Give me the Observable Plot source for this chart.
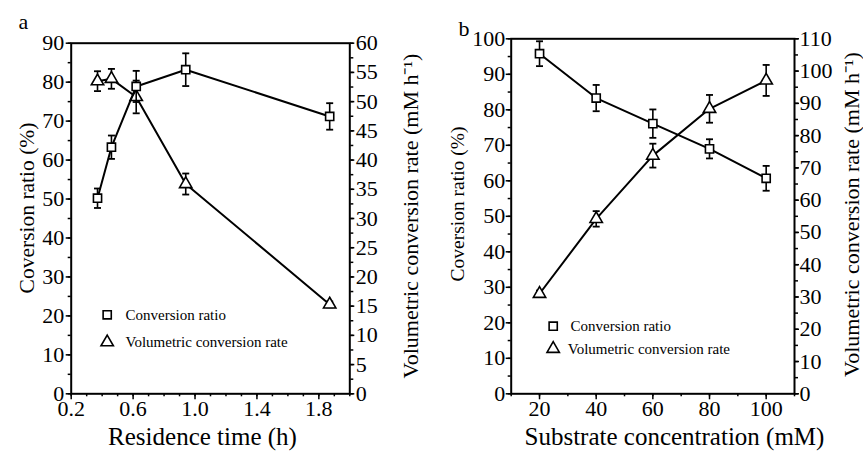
<!DOCTYPE html>
<html>
<head>
<meta charset="utf-8">
<script src="https://cdn.jsdelivr.net/npm/d3@7"></script>
<script src="https://cdn.jsdelivr.net/npm/@observablehq/plot@0.6"></script>
<style>
  html, body { margin: 0; padding: 0; background: #fff; }
  #wrap { display: flex; width: 863px; height: 451px; overflow: hidden; }
  #wrap svg { display: block; flex: none; }
  #wrap svg, #wrap svg text { font-family: "Liberation Serif","Times New Roman",Times,serif !important; }
</style>
</head>
<body>
<div id="wrap"></div>
<script>
// ---------- Panel a data ----------
const residenceTime = [0.37, 0.46, 0.62, 0.94, 1.87];
const ratioA = [50.2, 63.3, 78.9, 83.2, 71.2];
const ratioErrA = [2.5, 3.0, 4.0, 4.2, 3.4];
const rateA = [53.5, 53.9, 50.8, 35.9, 15.3];
const rateErrA = [1.7, 1.7, 2.8, 1.8, 0.5];

// ---------- Panel b data ----------
const substrateConc = [20, 40, 60, 80, 100];
const ratioB = [95.8, 83.3, 76.1, 69.0, 60.7];
const ratioErrB = [3.5, 3.7, 4.0, 2.7, 3.5];
const rateB = [31.0, 54.2, 73.8, 88.3, 97.1];
const rateErrB = [1.0, 2.4, 3.7, 4.3, 4.8];

// ---------- Tick labels ----------
const xTicksA = [0.2, 0.6, 1.0, 1.4, 1.8];
const xTicksB = [20, 40, 60, 80, 100];
const yLeftTicksA = [0, 10, 20, 30, 40, 50, 60, 70, 80, 90];
const yRightTicksA = [0, 5, 10, 15, 20, 25, 30, 35, 40, 45, 50, 55, 60];
const yLeftTicksB = [0, 10, 20, 30, 40, 50, 60, 70, 80, 90, 100];
const yRightTicksB = [0, 10, 20, 30, 40, 50, 60, 70, 80, 90, 100, 110];

const legendLabels = ["Conversion ratio", "Volumetric conversion rate"];
const FONT = '"Liberation Serif","Times New Roman",Times,serif';

const cap = { draw(ctx) { ctx.moveTo(-3.5, 0); ctx.lineTo(3.5, 0); } };
const range = (a, b, s) => d3.range(Math.round((b - a) / s) + 1).map(i => +(a + i * s).toFixed(6));

function panel(c) {
  const k = c.yMax / c.rMax; // right axis -> left axis units
  const sq = c.xs.map((x, i) => ({x, y: c.ratio[i], lo: c.ratio[i] - c.ratioErr[i], hi: c.ratio[i] + c.ratioErr[i]}));
  const tr = c.xs.map((x, i) => ({x, y: c.rate[i] * k, lo: (c.rate[i] - c.rateErr[i]) * k, hi: (c.rate[i] + c.rateErr[i]) * k}));
  const series = (d, sym) => [
    Plot.line(d, {x: "x", y: "y", stroke: "black", strokeWidth: 2}),
    Plot.ruleX(d, {x: "x", y1: "lo", y2: "hi", stroke: "black", strokeWidth: 1.6}),
    Plot.dot(d, {x: "x", y: "hi", symbol: cap, stroke: "black", strokeWidth: 1.8}),
    Plot.dot(d, {x: "x", y: "lo", symbol: cap, stroke: "black", strokeWidth: 1.8}),
    Plot.dot(d, {x: "x", y: "y", symbol: sym, r: 4.6, fill: "white", stroke: "black", strokeWidth: 1.6})
  ];
  const m = c.margin;
  const svg = Plot.plot({
    width: c.width, height: 451,
    marginLeft: m[0], marginRight: m[1], marginTop: m[2], marginBottom: m[3],
    style: {fontFamily: FONT, fontSize: "22px", color: "black", background: "white", overflow: "visible"},
    x: {domain: c.xDomain},
    y: {domain: [0, c.yMax]},
    marks: [
      Plot.frame({stroke: "black", strokeWidth: 2}),
      // bottom axis
      Plot.axisX(c.xMinor, {tickSize: 3, tickFormat: () => "", strokeWidth: 1.5, label: null}),
      Plot.axisX(c.xTicks, {tickSize: 6, tickPadding: 1, tickFormat: c.xFormat, strokeWidth: 1.5, label: null, fontSize: 22}),
      // left axis
      Plot.axisY(range(0, c.yMax, c.yMinorStep), {anchor: "left", tickSize: 3, tickFormat: () => "", strokeWidth: 1.5, label: null}),
      Plot.axisY(c.yTicks, {anchor: "left", tickSize: 5, tickPadding: c.leftPad, strokeWidth: 1.5, label: null, fontSize: 22}),
      // right axis
      Plot.axisY(range(0, c.rMax, c.rMinorStep).map(v => v * k), {anchor: "right", tickSize: 3, tickFormat: () => "", strokeWidth: 1.5, label: null}),
      Plot.axisY(c.rTicks.map(v => v * k), {anchor: "right", tickSize: 4, tickPadding: c.rightPad, tickFormat: d => String(Math.round(d / k)), strokeWidth: 1.5, label: null, fontSize: 22}),
      // data
      ...series(tr, "triangle"),
      ...series(sq, "square"),
      // titles
      Plot.text([c.xTitle], {frameAnchor: "bottom", dx: c.xTitlePos[0], dy: c.xTitlePos[1], textAnchor: "middle", lineAnchor: "bottom", fontSize: 25}),
      Plot.text(["Coversion ratio (%)"], {frameAnchor: "left", rotate: -90, dx: c.yTitlePos[0], dy: c.yTitlePos[1], textAnchor: "middle", lineAnchor: "bottom", fontSize: c.yTitleSize}),
      Plot.text(["Volumetric conversion rate (mM h\u207B\u00B9)"], {frameAnchor: "right", rotate: -90, dx: c.rTitlePos[0], dy: c.rTitlePos[1], textAnchor: "middle", lineAnchor: "bottom", fontSize: 22}),
      Plot.text([c.label], {frameAnchor: "top-left", dx: c.labelPos[0], dy: c.labelPos[1], textAnchor: "start", lineAnchor: "bottom", fontSize: 22}),
      // legend
      Plot.dot([0], {frameAnchor: "bottom-left", dx: c.legSym[0], dy: c.legSym[1], symbol: "square", r: 4.6, fill: "white", stroke: "black", strokeWidth: 1.6}),
      Plot.dot([0], {frameAnchor: "bottom-left", dx: c.legSym[0], dy: c.legSym[2], symbol: "triangle", r: 4.6, fill: "white", stroke: "black", strokeWidth: 1.6}),
      Plot.text([legendLabels[0]], {frameAnchor: "bottom-left", dx: c.legText[0], dy: c.legSym[1], textAnchor: "start", lineAnchor: "middle", fontSize: 15}),
      Plot.text([legendLabels[1]], {frameAnchor: "bottom-left", dx: c.legText[1], dy: c.legSym[2], textAnchor: "start", lineAnchor: "middle", fontSize: 15})
    ]
  });
  // make tick labels use the serif face at the reference size
  d3.select(svg).selectAll('g[aria-label$="tick label"] text')
    .style("font-size", "22px")
    .style("font-family", FONT)
    .style("font-variant-numeric", "normal");
  return svg;
}

const wrap = document.getElementById("wrap");
wrap.appendChild(panel({
  width: 431, margin: [70.7, 81.7, 42.7, 57.7],
  xDomain: [0.2, 2.0], xTicks: xTicksA, xMinor: range(0.2, 2.0, 0.1), xFormat: d3.format(".1f"),
  yMax: 90, yTicks: yLeftTicksA, yMinorStep: 5,
  rMax: 60, rTicks: yRightTicksA, rMinorStep: 2.5,
  xs: residenceTime, ratio: ratioA, ratioErr: ratioErrA, rate: rateA, rateErr: rateErrA,
  xTitle: "Residence time (h)", xTitlePos: [-8, 51],
  yTitlePos: [-37.5, -10.5], yTitleSize: 21.5,
  rTitlePos: [68, -2.5],
  label: "a", labelPos: [-52.7, -14.7],
  leftPad: 2, rightPad: 2,
  legSym: [36, -79, -51.6], legText: [54.3, 54.3]
}));
wrap.appendChild(panel({
  width: 432, margin: [79.7, 69, 38.3, 57.7],
  xDomain: [10, 110], xTicks: xTicksB, xMinor: range(10, 110, 10), xFormat: d3.format("d"),
  yMax: 100, yTicks: yLeftTicksB, yMinorStep: 5,
  rMax: 110, rTicks: yRightTicksB, rMinorStep: 5,
  xs: substrateConc, ratio: ratioB, ratioErr: ratioErrB, rate: rateB, rateErr: rateErrB,
  xTitle: "Substrate concentration (mM)", xTitlePos: [21.6, 51],
  yTitlePos: [-47.5, -12.3], yTitleSize: 19.5,
  rTitlePos: [64.5, -1.8],
  label: "b", labelPos: [-52.7, -3.3],
  leftPad: 1, rightPad: 1,
  legSym: [42, -67.6, -45], legText: [59.3, 56.6]
}));
</script>
</body>
</html>
